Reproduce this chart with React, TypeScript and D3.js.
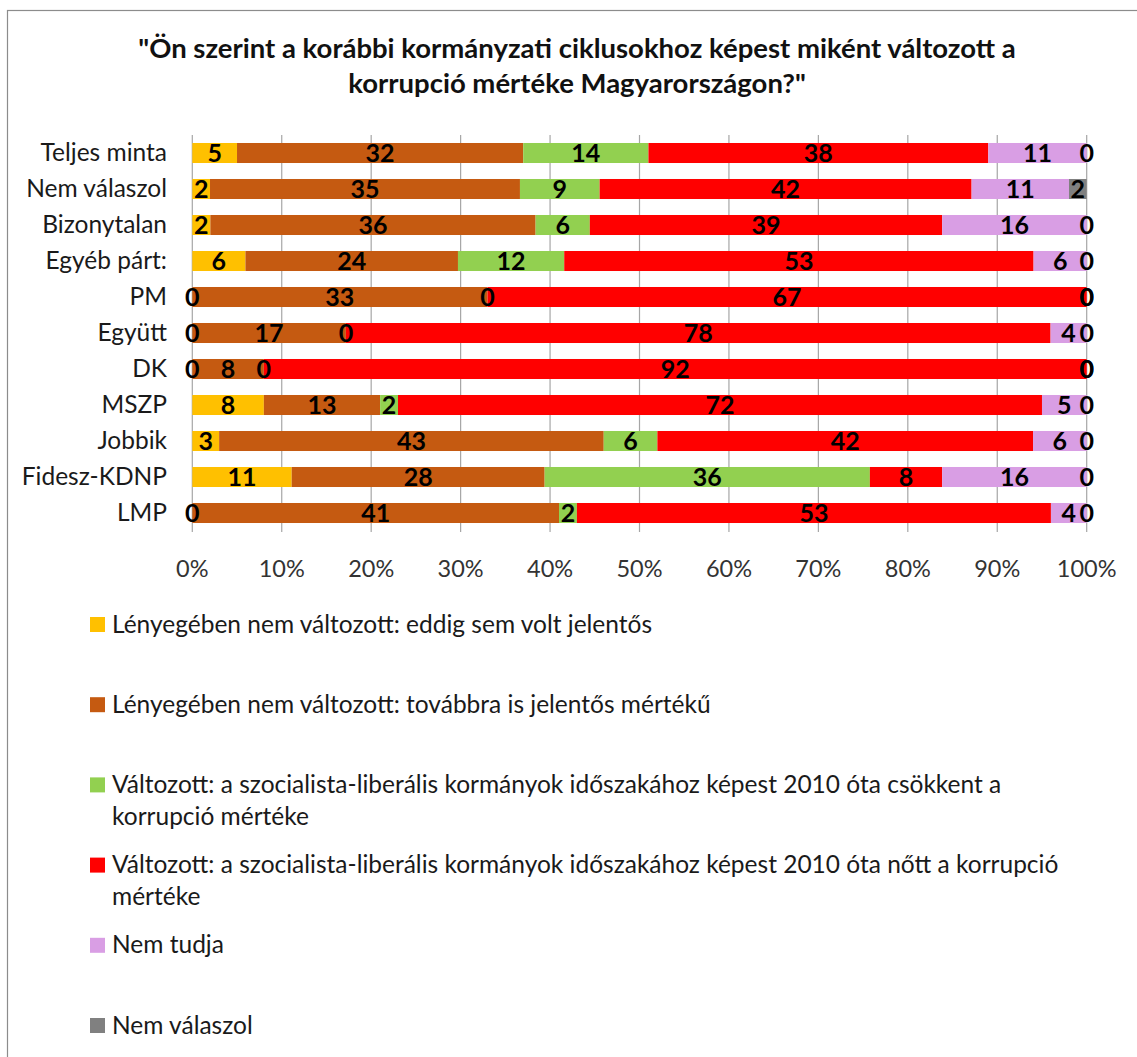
import React, { useEffect, useRef } from 'react'
import * as d3 from 'd3'

/* data */
const categories = [
  'Teljes minta', 'Nem válaszol', 'Bizonytalan', 'Egyéb párt:', 'PM', 'Együtt',
  'DK', 'MSZP', 'Jobbik', 'Fidesz-KDNP', 'LMP',
]
const seriesNames = [
  'Lényegében nem változott: eddig sem volt jelentős',
  'Lényegében nem változott: továbbra is jelentős mértékű',
  'Változott: a szocialista-liberális kormányok időszakához képest 2010 óta csökkent a\nkorrupció mértéke',
  'Változott: a szocialista-liberális kormányok időszakához képest 2010 óta nőtt a korrupció\nmértéke',
  'Nem tudja',
  'Nem válaszol',
]
const nemValtozottNemJelentos = [5, 2, 2, 6, 0, 0, 0, 8, 3, 11, 0]
const nemValtozottJelentos = [32, 35, 36, 24, 33, 17, 8, 13, 43, 28, 41]
const csokkent = [14, 9, 6, 12, 0, 0, 0, 2, 6, 36, 2]
const nott = [38, 42, 39, 53, 67, 78, 92, 72, 42, 8, 53]
const nemTudja = [11, 11, 16, 6, 0, 4, 0, 5, 6, 16, 4]
const nemValaszol = [0, 2, 0, 0, 0, 0, 0, 0, 0, 0, 0]
const tickValues = [0, 0.1, 0.2, 0.3, 0.4, 0.5, 0.6, 0.7, 0.8, 0.9, 1]

const colors = ['#FFC000', '#C55A11', '#92D050', '#FF0000', '#D99EE4', '#808080']
const FONT = 'Lato, sans-serif'

export default function App() {
  const ref = useRef<SVGSVGElement>(null)

  useEffect(() => {
    const W = 1137, H = 1057
    const svg = d3.select(ref.current)
    svg.selectAll('*').remove()

    /* table for the stack */
    const cols = [nemValtozottNemJelentos, nemValtozottJelentos, csokkent, nott, nemTudja, nemValaszol]
    const keys = seriesNames.map((_, i) => 's' + i)
    const table = categories.map((c, r) => {
      const row: any = { cat: c }
      keys.forEach((k, i) => { row[k] = cols[i][r] })
      return row
    })
    const stacked = d3.stack().keys(keys).offset(d3.stackOffsetExpand)(table)

    const x = d3.scaleLinear().domain([0, 1]).range([192.3, 1086.7])
    const y = d3.scaleBand().domain(categories).range([135, 531])
      .paddingInner(0.444).paddingOuter(0.222)

    /* frame */
    svg.append('rect').attr('x', 7.5).attr('y', 10.5).attr('width', W + 20).attr('height', H + 20)
      .attr('fill', 'white').attr('stroke', '#8c8c8c').attr('stroke-width', 1.2)

    /* title */
    const title = svg.append('text').attr('text-anchor', 'middle')
      .attr('font-family', FONT).attr('font-weight', 'bold').attr('font-size', 27.5).attr('fill', '#111')
    title.append('tspan').attr('x', 577).attr('y', 58)
      .text('"Ön szerint a korábbi kormányzati ciklusokhoz képest miként változott a')
    title.append('tspan').attr('x', 577).attr('y', 93)
      .text('korrupció mértéke Magyarországon?"')

    /* grid */
    svg.append('g').selectAll('line').data(tickValues).join('line')
      .attr('x1', d => x(d)).attr('x2', d => x(d))
      .attr('y1', 135).attr('y2', 532)
      .attr('stroke', '#a6a6a6').attr('stroke-width', 1.2)

    /* tick labels */
    svg.append('g').selectAll('text').data(tickValues).join('text')
      .attr('x', d => x(d)).attr('y', 577)
      .attr('text-anchor', 'middle').attr('font-family', FONT).attr('font-size', 23.5)
      .attr('fill', '#333').text(d => d3.format('.0%')(d))

    /* category labels */
    svg.append('g').selectAll('text').data(categories).join('text')
      .attr('x', 167).attr('y', d => (y(d) as number) + y.bandwidth() / 2 + 8)
      .attr('text-anchor', 'end').attr('font-family', FONT).attr('font-size', 24.5)
      .attr('fill', '#1a1a1a').text(d => d)

    /* bars */
    const layers = svg.append('g').selectAll('g').data(stacked).join('g')
      .attr('fill', (_, i) => colors[i])
    layers.selectAll('rect').data(d => d).join('rect')
      .attr('x', d => x(d[0])).attr('width', d => x(d[1]) - x(d[0]))
      .attr('y', d => y((d.data as any).cat) as number).attr('height', y.bandwidth())

    /* value labels */
    const lbl = svg.append('g')
    stacked.forEach((layer, i) => {
      lbl.selectAll('text.s' + i).data(layer).join('text').attr('class', 's' + i)
        .attr('x', d => x((d[0] + d[1]) / 2))
        .attr('y', d => (y((d.data as any).cat) as number) + y.bandwidth() / 2 + 9)
        .attr('text-anchor', 'middle').attr('font-family', FONT).attr('font-weight', 'bold')
        .attr('font-size', 25).attr('fill', '#000')
        .text(d => (d.data as any)[keys[i]])
    })

    /* legend */
    const leg = svg.append('g').selectAll('g').data(seriesNames).join('g')
      .attr('transform', (_, i) => `translate(90,${617 + i * 80.2})`)
    leg.append('rect').attr('width', 15).attr('height', 15).attr('fill', (_, i) => colors[i])
    leg.append('text').attr('font-family', FONT).attr('font-size', 24.5).attr('fill', '#1a1a1a')
      .each(function (d) {
        d.split('\n').forEach((line, j) => {
          d3.select(this).append('tspan').attr('x', 22).attr('y', 15.5 + j * 32).text(line)
        })
      })
  }, [])

  return (
    <svg ref={ref} width={1137} height={1057}
      style={{ position: 'absolute', left: 0, top: 0, background: 'white' }} />
  )
}
